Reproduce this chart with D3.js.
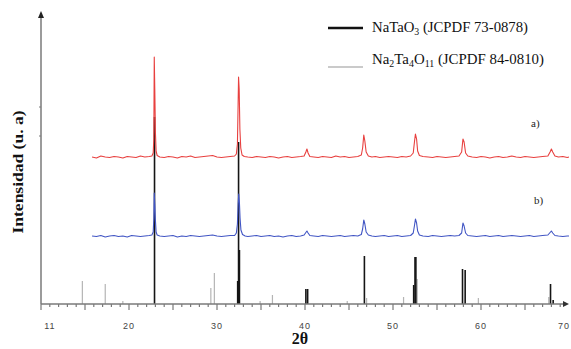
<!DOCTYPE html>
<html><head><meta charset="utf-8">
<script src="https://cdn.jsdelivr.net/npm/d3@7/dist/d3.min.js"></script>
<style>body{margin:0;background:#fff;}svg{display:block;}</style>
</head><body>
<script>
// ---- DATA ----
const xTickLabels = [11, 20, 30, 40, 50, 60, 70];
const yMarks = [168, 197];
// sample a) (red) : [2theta, intensity]
const traceA = [[15.8,147],[16.3,146],[16.8,148],[17.3,147],[17.8,146.5],[18.3,147.5],[18.8,147],[19.3,146],[19.8,147.5],[20.3,147],[20.8,146.5],[21.3,148],[21.8,147],[22.3,147.5],[22.6,148],[22.75,151],[22.82,165],[22.87,247],[22.93,215],[23.0,172],[23.08,153],[23.2,148.5],[23.5,147],[24.0,146.5],[24.5,147.5],[25.0,147],[25.5,146],[26.0,147.5],[26.5,147],[27.0,148],[27.5,146.5],[28.0,147],[28.5,147.5],[29.0,148],[29.5,148.5],[30.0,147],[30.5,146.5],[31.0,147],[31.5,147.5],[32.0,148],[32.2,150],[32.32,160],[32.4,200],[32.45,227],[32.52,215],[32.6,175],[32.7,156],[32.85,149],[33.1,147.5],[33.5,147],[34.0,146.5],[34.5,147.5],[35.0,147],[35.5,146.5],[36.0,147.5],[36.5,147],[37.0,146],[37.5,147],[38.0,147.5],[38.5,146.5],[39.0,147],[39.5,147.5],[39.9,148],[40.1,152],[40.22,155],[40.35,151],[40.55,147.5],[41.0,147],[41.5,146.5],[42.0,147.5],[42.5,147],[43.0,146.5],[43.5,148],[44.0,147],[44.5,147.5],[45.0,146.5],[45.5,147],[46.0,147.5],[46.4,149],[46.55,156],[46.68,169],[46.8,163],[46.95,152],[47.2,148],[47.6,147],[48.0,147.5],[48.5,146.5],[49.0,147],[49.5,147.5],[50.0,147],[50.5,146.5],[51.0,147.5],[51.5,147],[52.0,148],[52.3,151],[52.45,163],[52.55,170],[52.68,165],[52.8,153],[53.0,148.5],[53.4,147.5],[54.0,147],[54.5,146.5],[55.0,147.5],[55.5,147],[56.0,146.5],[56.5,147],[57.0,147.5],[57.5,148],[57.8,152],[57.95,165],[58.08,162],[58.25,151],[58.5,148],[59.0,147],[59.5,146.5],[60.0,147.5],[60.5,147],[61.0,146],[61.5,147],[62.0,147.5],[62.5,146.5],[63.0,147],[63.5,148],[64.0,147],[64.5,146.5],[65.0,147.5],[65.5,147],[66.0,146.5],[66.5,147],[67.0,147.5],[67.6,148],[67.85,152],[68.0,155],[68.15,152],[68.4,148],[68.8,147],[69.3,147.5],[69.8,146.5],[70.0,147]];
// sample b) (blue)
const traceB = [[15.8,68],[16.3,67.5],[16.8,68.5],[17.3,67],[17.8,68],[18.3,68.5],[18.8,67.5],[19.3,68],[19.8,67],[20.3,68.5],[20.8,68],[21.3,67.5],[21.8,68],[22.3,68.5],[22.6,69],[22.75,72],[22.82,85],[22.87,111],[22.93,100],[23.0,84],[23.08,72],[23.2,69],[23.5,68],[24.0,67.5],[24.5,68],[25.0,68.5],[25.5,67],[26.0,68],[26.5,67.5],[27.0,68.5],[27.5,68],[28.0,67.5],[28.5,68],[29.0,68.5],[29.5,69],[30.0,68],[30.5,67.5],[31.0,68],[31.5,68.5],[32.0,68.5],[32.2,71],[32.32,80],[32.4,100],[32.47,110],[32.55,101],[32.62,86],[32.72,74],[32.9,69.5],[33.2,68],[33.5,67.5],[34.0,68],[34.5,68.5],[35.0,67.5],[35.5,68],[36.0,68.5],[36.5,67.5],[37.0,68],[37.5,67],[38.0,68],[38.5,68.5],[39.0,67.5],[39.5,68],[39.9,69],[40.1,71.5],[40.22,73],[40.35,71],[40.55,68.5],[41.0,68],[41.5,67.5],[42.0,68.5],[42.5,68],[43.0,67.5],[43.5,68],[44.0,68.5],[44.5,67.5],[45.0,68],[45.5,68.5],[46.0,68],[46.4,69.5],[46.55,75],[46.68,84],[46.8,80],[46.95,72],[47.2,69],[47.6,68],[48.0,67.5],[48.5,68],[49.0,68.5],[49.5,67.5],[50.0,68],[50.5,68.5],[51.0,67.5],[51.5,68],[52.0,68.5],[52.3,71],[52.45,79],[52.55,85],[52.68,81],[52.8,73],[53.0,69],[53.4,68],[54.0,67.5],[54.5,68.5],[55.0,68],[55.5,67.5],[56.0,68],[56.5,68.5],[57.0,68],[57.5,68.5],[57.8,71],[57.95,81],[58.08,78],[58.25,71],[58.5,68.5],[59.0,68],[59.5,67.5],[60.0,68],[60.5,68.5],[61.0,67.5],[61.5,68],[62.0,68.5],[62.5,67.5],[63.0,68],[63.5,68.5],[64.0,68],[64.5,67.5],[65.0,68],[65.5,68.5],[66.0,67.5],[66.5,68],[67.0,68.5],[67.6,69],[67.85,71.5],[68.0,73],[68.15,71],[68.4,68.5],[68.8,68],[69.3,67.5],[69.8,68],[70.0,68]];
// NaTaO3 reference (JCPDF 73-0878): [2theta, height]
const refNaTaO3 = [[22.9,187],[32.35,23],[32.45,162],[32.55,54],[40.1,15],[40.3,15],[46.75,48],[52.35,19],[52.5,47],[52.6,47],[57.9,35],[58.2,34],[67.9,20],[68.2,4]];
// Na2Ta4O11 reference (JCPDF 84-0810)
const refNa2Ta4O11 = [[14.7,23],[17.3,20],[19.3,3],[29.3,16],[29.7,31],[34.9,3],[36.3,9],[44.8,3],[47.0,6],[51.2,7],[52.75,25],[59.7,6],[67.7,7]];

// ---- CHART ----
const W = 571, H = 349;
const svg = d3.select("body").append("svg").attr("width", W).attr("height", H);
const x = d3.scaleLinear().domain([10, 70]).range([41, 569]);
const y = d3.scaleLinear().domain([0, 291]).range([304, 13]);
const axisColor = "#7a7a7a";
const serif = "Liberation Serif, Times New Roman, serif";

// reference sticks
svg.append("g").selectAll("line").data(refNa2Ta4O11).join("line")
  .attr("x1", d => x(d[0])).attr("x2", d => x(d[0]))
  .attr("y1", y(0)).attr("y2", d => y(d[1]))
  .attr("stroke", "#b4b4b4").attr("stroke-width", 1.2);
svg.append("g").selectAll("line").data(refNaTaO3).join("line")
  .attr("x1", d => x(d[0])).attr("x2", d => x(d[0]))
  .attr("y1", y(0)).attr("y2", d => y(d[1]))
  .attr("stroke", "#151515").attr("stroke-width", 1.6);

// traces
const line = d3.line().x(d => x(d[0])).y(d => y(d[1]));
svg.append("path").datum(traceA).attr("d", line).attr("fill", "none")
  .attr("stroke", "#e8403f").attr("stroke-width", 1.1).attr("stroke-linejoin", "round");
svg.append("path").datum(traceB).attr("d", line).attr("fill", "none")
  .attr("stroke", "#4155c4").attr("stroke-width", 1.1).attr("stroke-linejoin", "round");

// x axis
svg.append("line").attr("x1", x(10)).attr("x2", x(70) - 3).attr("y1", y(0)).attr("y2", y(0))
  .attr("stroke", axisColor).attr("stroke-width", 1.5);
svg.append("path").attr("d", `M${x(70)},${y(0)} L${x(70)-6},${y(0)-3} L${x(70)-6},${y(0)+3} Z`).attr("fill", "#333");
const minor = d3.range(10, 70, 1);
svg.append("g").selectAll("line").data(minor).join("line")
  .attr("x1", d => x(d)).attr("x2", d => x(d))
  .attr("y1", y(0)).attr("y2", d => y(0) + (d % 5 === 0 ? 6 : 3))
  .attr("stroke", axisColor).attr("stroke-width", 1.2);
svg.append("g").selectAll("text").data(xTickLabels).join("text")
  .attr("x", d => d === 70 ? W - 1 : x(d)).attr("y", 329)
  .attr("text-anchor", d => d === 70 ? "end" : "middle")
  .attr("font-family", "Liberation Sans, Arial, sans-serif").attr("font-size", 9)
  .attr("letter-spacing", 1).attr("fill", "#444").text(d => d);
svg.append("text").attr("x", 300).attr("y", 344).attr("text-anchor", "middle")
  .attr("font-family", serif).attr("font-weight", "bold")
  .attr("font-size", 16).attr("fill", "#111").text("2θ");

// y axis
svg.append("line").attr("x1", x(10)).attr("x2", x(10)).attr("y1", y(0)).attr("y2", y(291) + 4)
  .attr("stroke", axisColor).attr("stroke-width", 1.5);
svg.append("path").attr("d", `M${x(10)},${y(291)-2} L${x(10)-3},${y(291)+5} L${x(10)+3},${y(291)+5} Z`).attr("fill", "#222");
svg.append("g").selectAll("line").data(yMarks).join("line")
  .attr("x1", x(10) - 2).attr("x2", x(10)).attr("y1", d => y(d)).attr("y2", d => y(d))
  .attr("stroke", axisColor).attr("stroke-width", 1);
svg.append("text").attr("transform", "translate(23,172) rotate(-90)").attr("text-anchor", "middle")
  .attr("font-family", serif).attr("font-weight", "bold")
  .attr("font-size", 15).attr("textLength", 123).attr("lengthAdjust", "spacingAndGlyphs")
  .attr("fill", "#111").text("Intensidad (u. a)");

// sample labels
svg.append("text").attr("x", 531).attr("y", 127).attr("font-family", serif).attr("font-size", 11).attr("fill", "#222").text("a)");
svg.append("text").attr("x", 534).attr("y", 204).attr("font-family", serif).attr("font-size", 11).attr("fill", "#222").text("b)");

// legend
const legend = [
  {y: 28, ty: 32, len: 156, color: "#111", w: 2.5, parts: [["NaTaO",0],["3",1],[" (JCPDF 73-0878)",0]]},
  {y: 67, ty: 64, len: 172, color: "#b8b8b8", w: 1.5, parts: [["Na",0],["2",1],["Ta",0],["4",1],["O",0],["11",1],[" (JCPDF 84-0810)",0]]}
];
legend.forEach(l => {
  svg.append("line").attr("x1", 328).attr("x2", 363).attr("y1", l.y).attr("y2", l.y)
    .attr("stroke", l.color).attr("stroke-width", l.w);
  const t = svg.append("text").attr("x", 372).attr("y", l.ty).attr("font-family", serif)
    .attr("font-size", 15).attr("fill", "#111")
    .attr("textLength", l.len).attr("lengthAdjust", "spacingAndGlyphs");
  l.parts.forEach(p => {
    t.append("tspan").attr("font-size", p[1] ? 10 : 15)
      .attr("baseline-shift", p[1] ? "-3" : null).text(p[0]);
  });
});
</script>
</body></html>
